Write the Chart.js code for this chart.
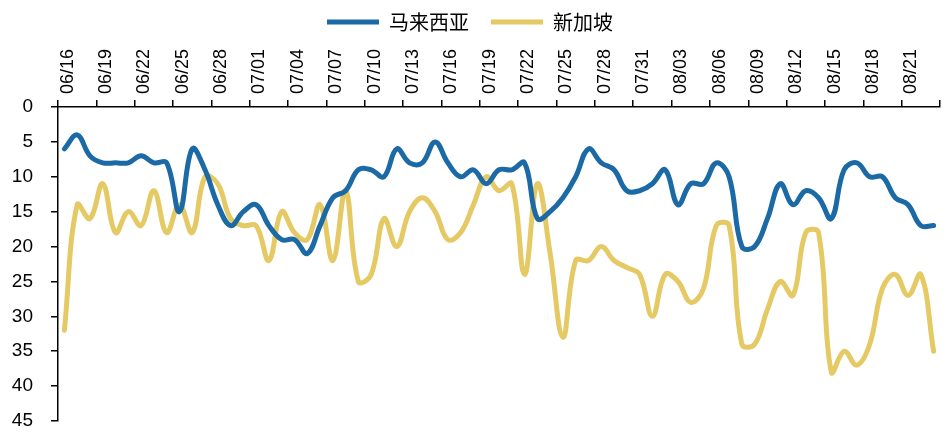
<!DOCTYPE html>
<html><head><meta charset="utf-8">
<script src="https://cdn.jsdelivr.net/npm/chart.js@4.4.0/dist/chart.umd.min.js"></script>
<style>html,body{margin:0;padding:0;background:#fff}</style></head>
<body>
<canvas id="c" width="951" height="432"></canvas>
<script>
const dates = [
 "06/16","06/17","06/18","06/19","06/20","06/21","06/22","06/23","06/24","06/25","06/26","06/27","06/28","06/29","06/30",
 "07/01","07/02","07/03","07/04","07/05","07/06","07/07","07/08","07/09","07/10","07/11","07/12","07/13","07/14","07/15",
 "07/16","07/17","07/18","07/19","07/20","07/21","07/22","07/23","07/24","07/25","07/26","07/27","07/28","07/29","07/30","07/31",
 "08/01","08/02","08/03","08/04","08/05","08/06","08/07","08/08","08/09","08/10","08/11","08/12","08/13","08/14","08/15",
 "08/16","08/17","08/18","08/19","08/20","08/21","08/22","08/23"
];
const malaysia = [6,4,7,8,8,8,7,8,8,15,6,9,14,17,15,14,17,19,19,21,17,13,12,9,9,10,6,8,8,5,
 8,10,9,11,9,9,8,16,15,13,10,6,8,9,12,12,11,9,14,11,11,8,10,20,20,16,11,14,12,13,
 16,9,8,10,10,13,14,17,17];
const singapore = [32,14,16,11,18,15,17,12,18,14,18,10,11,16,17,17,22,15,18,19,14,22,12,25,24,16,20,15,13,15,
 19,18,14,10,12,11,24,11,21,33,22,22,20,22,23,24,30,24,25,28,26,17,17,34,34,29,25,27,18,18,
 38,35,37,34,26,24,27,24,35];
const yTicks = [0,5,10,15,20,25,30,35,40,45];
const seriesNames = ["马来西亚","新加坡"];
const colors = ["#1B6AA5","#E5C964"];

const AX = "#000000";
new Chart(document.getElementById('c'), {
  type: 'line',
  data: {
    labels: dates,
    datasets: [
      {label: seriesNames[0], data: malaysia, borderColor: colors[0], backgroundColor: colors[0], borderWidth: 5, pointRadius: 0, tension: 0.4, borderCapStyle: 'round', borderJoinStyle: 'round'},
      {label: seriesNames[1], data: singapore, borderColor: colors[1], backgroundColor: colors[1], borderWidth: 5, pointRadius: 0, tension: 0.4, borderCapStyle: 'round', borderJoinStyle: 'round'}
    ]
  },
  options: {
    responsive: false,
    animation: false,
    devicePixelRatio: 1,
    layout: {padding: {top: -10, left: 0, right: 11, bottom: 11}},
    plugins: {
      tooltip: {enabled: false},
      legend: {
        position: 'top',
        maxHeight: 60,
        labels: {
          boxWidth: 52, boxHeight: 5, padding: 22, color: '#000',
          font: {family: '"Noto Sans CJK SC", sans-serif', size: 20},
          generateLabels: (chart) => chart.data.datasets.map((ds, i) => ({
            text: ds.label, fillStyle: ds.borderColor, strokeStyle: ds.borderColor,
            lineWidth: 0, hidden: false, datasetIndex: i, fontColor: '#000'
          }))
        }
      }
    },
    scales: {
      x: {
        type: 'category',
        position: 'top',
        offset: true,
        afterFit: (s) => { s.height = 65; },
        grid: {
          offset: true, drawOnChartArea: false, tickLength: 7, lineWidth: 1.5,
          color: (ctx) => (ctx.index === undefined || ctx.index % 3 === 0) ? AX : 'rgba(0,0,0,0)'
        },
        border: {color: AX, width: 1.5},
        ticks: {
          autoSkip: false, maxRotation: 90, minRotation: 90, padding: 6, labelOffset: 25, color: '#000',
          font: {family: '"Liberation Sans", Arial, sans-serif', size: 18},
          callback: function(v, i) { return i % 3 === 0 ? this.getLabelForValue(v) : ''; }
        }
      },
      y: {
        reverse: true,
        min: yTicks[0], max: yTicks[yTicks.length - 1],
        afterFit: (s) => { s.width = 58; s.paddingTop = 0; s.paddingBottom = 0; },
        afterBuildTicks: (s) => { s.ticks = yTicks.map(v => ({value: v})); },
        grid: {drawOnChartArea: false, tickLength: 7, color: AX, lineWidth: 1.5},
        border: {color: AX, width: 1.5},
        ticks: {
          padding: 18, color: '#000',
          font: {family: '"Liberation Sans", Arial, sans-serif', size: 19}
        }
      }
    }
  }
});
</script>
</body></html>
